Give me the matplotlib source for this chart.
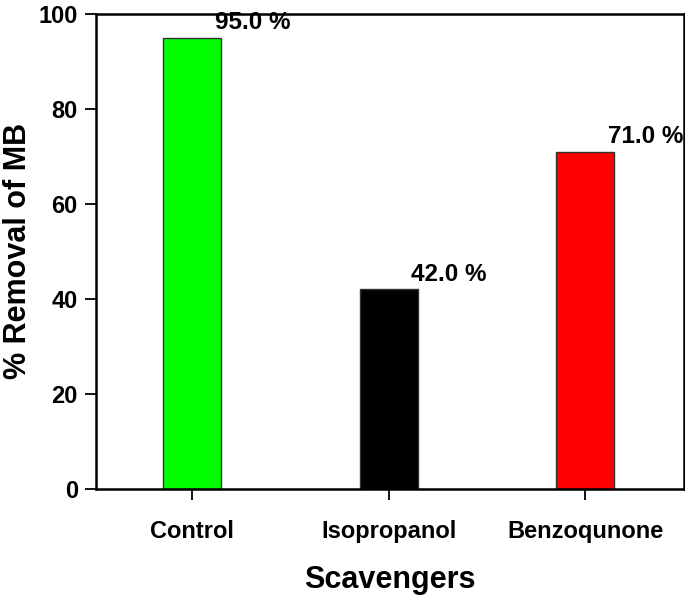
import matplotlib
matplotlib.use('Agg')
import matplotlib.pyplot as plt
import numpy as np

scavengers = ['Control', 'Isopropanol', 'Benzoqunone']
removal = [95.0, 42.0, 71.0]
bar_colors = ['#00ff00', '#000000', '#ff0000']

plt.rcParams['font.family'] = ['Liberation Sans', 'DejaVu Sans']
plt.rcParams['font.weight'] = 'bold'

fig = plt.figure(figsize=(6.85, 6.0), dpi=100)
ax = fig.add_axes([0.140, 0.185, 0.858, 0.792])

x = np.arange(len(scavengers))
ax.bar(x, removal, width=0.295, color=bar_colors, edgecolor='#333333', linewidth=1.0)

for i, v in enumerate(removal):
    ax.annotate(f'{v:.1f} %', xy=(i + 0.115, v), xytext=(0, 2.5), textcoords='offset points',
                ha='left', va='bottom', fontsize=17.5, fontweight='bold')

ax.set_xlim(-0.49, 2.5)
ax.set_ylim(0, 100)
ax.set_yticks([0, 20, 40, 60, 80, 100])
ax.set_xticks(x)
ax.set_xticklabels(scavengers)

for s in ax.spines.values():
    s.set_linewidth(1.8)
ax.tick_params(axis='both', direction='out', length=8, width=1.3, labelsize=17)
ax.tick_params(axis='x', pad=14)
ax.tick_params(axis='y', pad=5)

ax.set_xlabel('Scavengers', fontsize=22, fontweight='bold', labelpad=16)
ax.set_ylabel('% Removal of MB', fontsize=22, fontweight='bold', labelpad=4)

fig.savefig('out.png', dpi=100)
